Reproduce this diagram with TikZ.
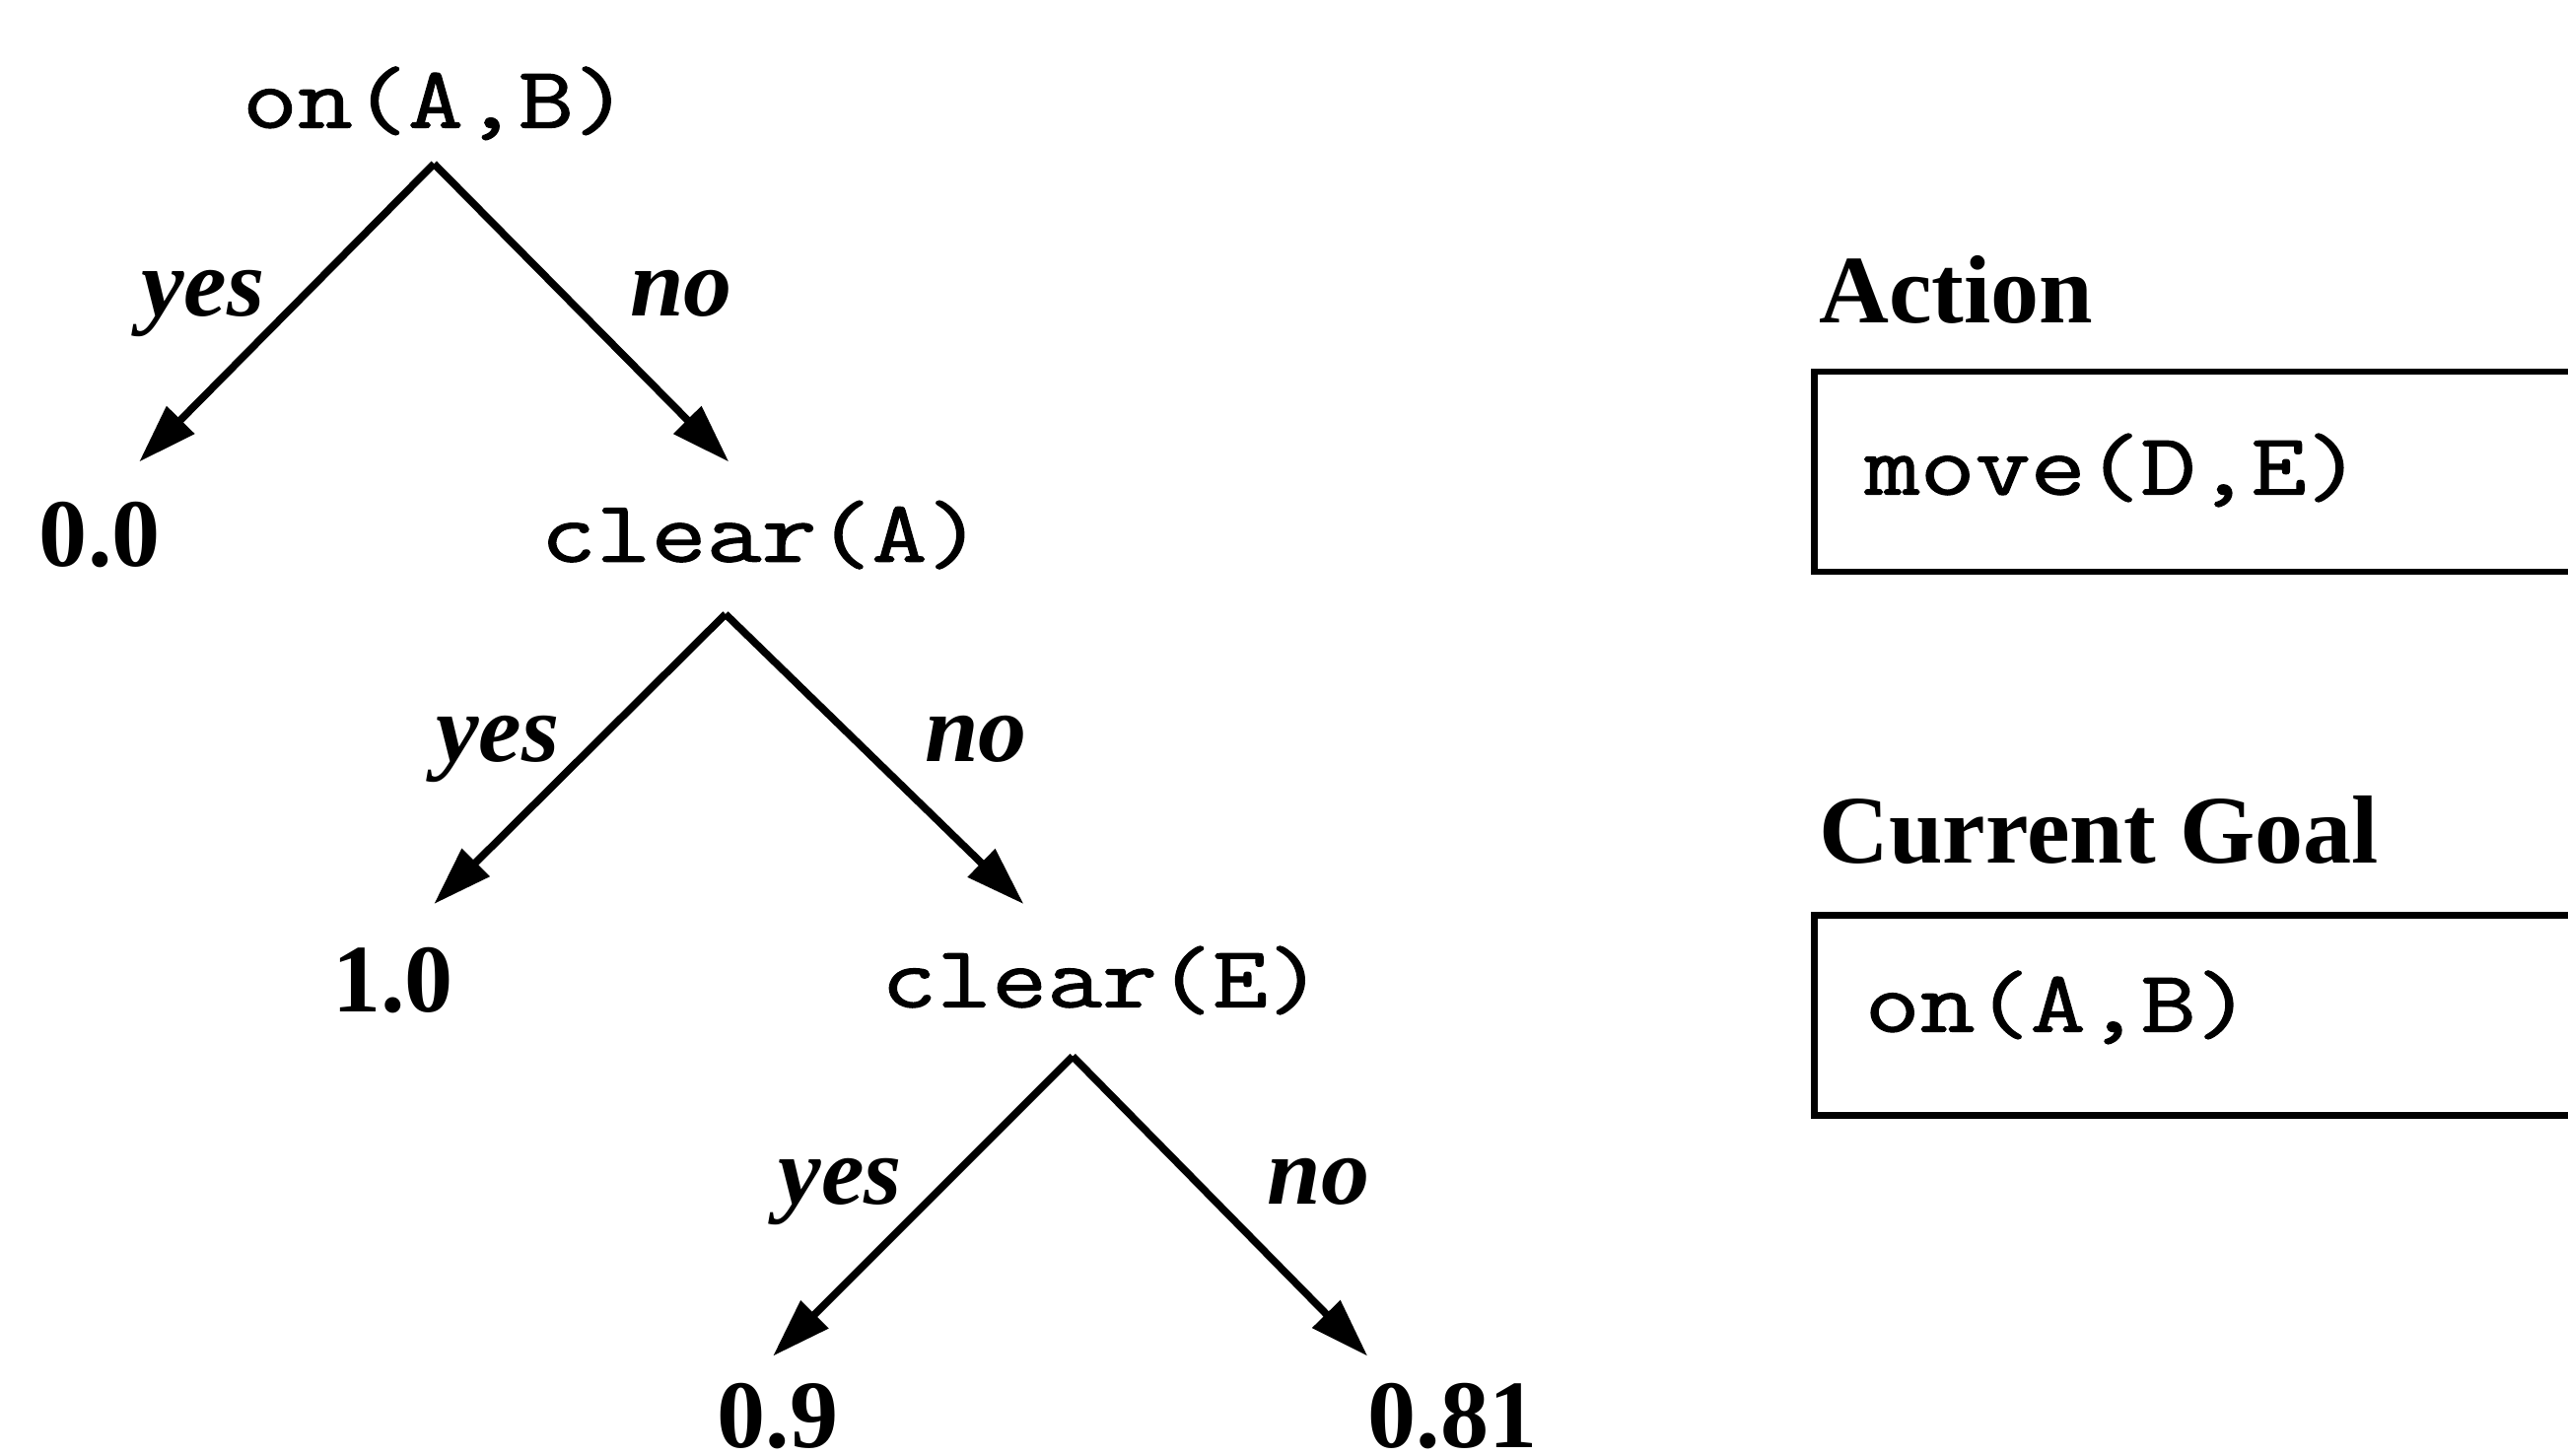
\documentclass[tikz,border=0pt]{standalone}
\usepackage{fontspec}
\setmainfont{Liberation Serif}
\newfontfamily\codefont[FakeBold=1.2]{Latin Modern Mono}
\usetikzlibrary{arrows.meta}
\newcommand{\codetxt}[1]{\scalebox{1}[0.82]{\fontsize{18.6}{22}\selectfont\codefont #1}}
\begin{document}
\begin{tikzpicture}[x=0.01cm,y=-0.01cm,
 mono/.style={inner sep=0pt, anchor=base},
 val/.style={font=\fontsize{16.8}{20}\selectfont\bfseries, inner sep=0pt, anchor=base},
 lab/.style={font=\fontsize{16.8}{20}\selectfont\bfseries\itshape, inner sep=0pt, anchor=base},
 head/.style={font=\fontsize{16.8}{20}\selectfont\bfseries, inner sep=0pt, anchor=base west},
 boxtxt/.style={inner sep=0pt, anchor=base west},
 edge/.style={line width=1.3pt, -{Triangle[length=0.36cm,width=0.23cm]}},
 panel/.style={draw, line width=1.1pt, rectangle, inner sep=0pt, minimum width=6cm, minimum height=1.22cm, anchor=north west}]
\useasboundingbox (0,0) rectangle (1568,889);
\clip (0,0) rectangle (1568,889);

% tree nodes
\node[mono] (n1) at (266,78) {\codetxt{on(A,B)}};
\node[val]  (v1) at (61,346) {0.0};
\node[mono] (n2) at (465,343) {\codetxt{clear(A)}};
\node[val]  (v2) at (240,618) {1.0};
\node[mono] (n3) at (673,615) {\codetxt{clear(E)}};
\node[val]  (v3) at (475,884) {0.9};
\node[val]  (v4) at (887,884) {0.81};

% apexes and tips
\coordinate (a1) at (265,100);
\coordinate (t1l) at (85,282);
\coordinate (t1r) at (445,282);
\coordinate (a2) at (443,375);
\coordinate (t2l) at (265,552);
\coordinate (t2r) at (625,552);
\coordinate (a3) at (655,645);
\coordinate (t3l) at (472,828);
\coordinate (t3r) at (835,828);

\draw[edge] (a1) -- (t1l);
\draw[edge] (a1) -- (t1r);
\draw[edge] (a2) -- (t2l);
\draw[edge] (a2) -- (t2r);
\draw[edge] (a3) -- (t3l);
\draw[edge] (a3) -- (t3r);

% edge labels
\node[lab] (y1) at (124,193) {yes};
\node[lab] (o1) at (416,193) {no};
\node[lab] (y2) at (304,465) {yes};
\node[lab] (o2) at (596,465) {no};
\node[lab] (y3) at (513,735) {yes};
\node[lab] (o3) at (805,735) {no};

% right panels
\node[head] (acth) at (1110,197) {Action};
\node[panel] (actbox) at (1106,225) {};
\node[boxtxt] (actt) at (1138,302) {\codetxt{move(D,E)}};
\node[head] (goalh) at (1110,527) {Current Goal};
\node[panel] (goalbox) at (1106,557) {};
\node[boxtxt] (goalt) at (1138,630) {\codetxt{on(A,B)}};
\end{tikzpicture}
\end{document}
